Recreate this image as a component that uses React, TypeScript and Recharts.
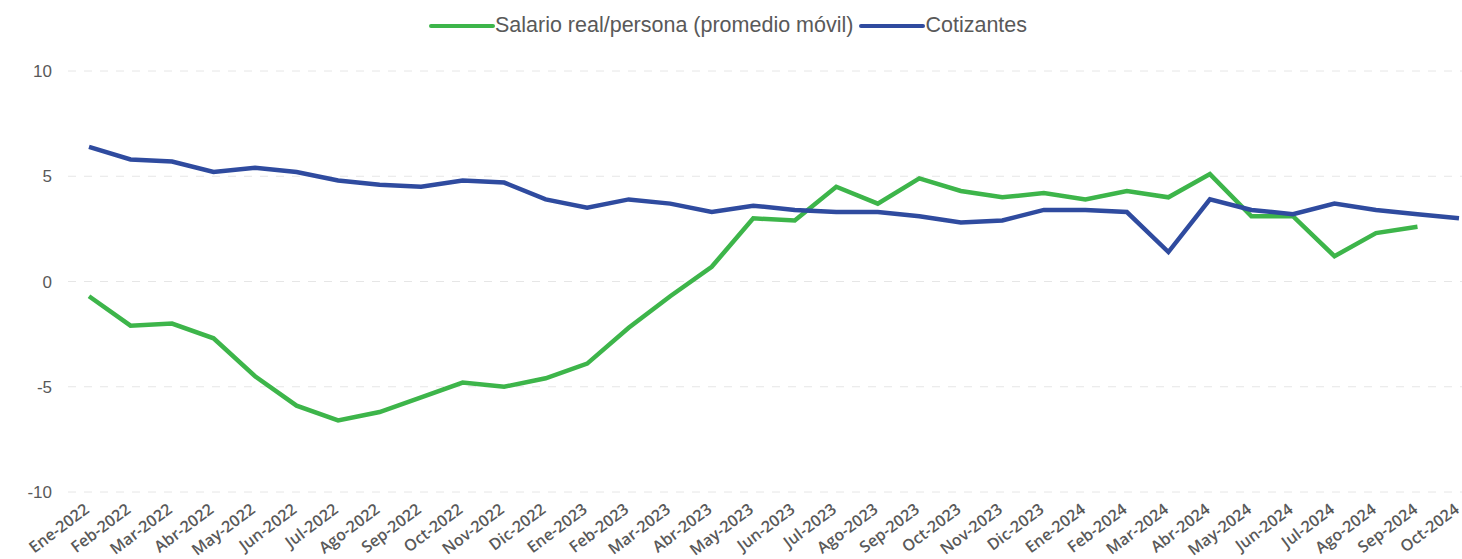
import React from 'react';
import { LineChart, Line, XAxis, YAxis, CartesianGrid, Legend } from 'recharts';

const months = [
  'Ene-2022', 'Feb-2022', 'Mar-2022', 'Abr-2022', 'May-2022', 'Jun-2022', 'Jul-2022', 'Ago-2022', 'Sep-2022', 'Oct-2022', 'Nov-2022', 'Dic-2022',
  'Ene-2023', 'Feb-2023', 'Mar-2023', 'Abr-2023', 'May-2023', 'Jun-2023', 'Jul-2023', 'Ago-2023', 'Sep-2023', 'Oct-2023', 'Nov-2023', 'Dic-2023',
  'Ene-2024', 'Feb-2024', 'Mar-2024', 'Abr-2024', 'May-2024', 'Jun-2024', 'Jul-2024', 'Ago-2024', 'Sep-2024', 'Oct-2024',
];

// salario real por persona, promedio móvil (%)
const salario: (number | null)[] = [
  -0.7, -2.1, -2.0, -2.7, -4.5, -5.9, -6.6, -6.2, -5.5, -4.8, -5.0, -4.6,
  -3.9, -2.2, -0.7, 0.7, 3.0, 2.9, 4.5, 3.7, 4.9, 4.3, 4.0, 4.2,
  3.9, 4.3, 4.0, 5.1, 3.1, 3.1, 1.2, 2.3, 2.6, null,
];

// cotizantes (%)
const cotizantes = [
  6.4, 5.8, 5.7, 5.2, 5.4, 5.2, 4.8, 4.6, 4.5, 4.8, 4.7, 3.9,
  3.5, 3.9, 3.7, 3.3, 3.6, 3.4, 3.3, 3.3, 3.1, 2.8, 2.9, 3.4,
  3.4, 3.3, 1.4, 3.9, 3.4, 3.2, 3.7, 3.4, 3.2, 3.0,
];

const yTicks = [-10, -5, 0, 5, 10];
const seriesNames = ['Salario real/persona (promedio móvil)', 'Cotizantes'];

const data = months.map((m, i) => ({ mes: m, salario: salario[i], cotizantes: cotizantes[i] }));

const textColor = '#595959';

const MonthTick = (props: any) => {
  const { x, y, payload } = props;
  return (
    <g transform={`translate(${x},${y})`}>
      <text
        x={-6}
        y={0}
        dy={10}
        textAnchor="end"
        transform="rotate(-37)"
        fill={textColor}
        fontSize={16}
        fontWeight={600}
        fontFamily="'Open Sans', sans-serif"
      >
        {payload.value}
      </text>
    </g>
  );
};

const LegendBox = (props: any) => {
  const items = [...(props.payload || [])].sort(
    (a: any, b: any) => seriesNames.indexOf(a.value) - seriesNames.indexOf(b.value)
  );
  return (
    <div style={{ display: 'flex', justifyContent: 'center', alignItems: 'center' }}>
      {items.map((p: any) => (
        <div key={p.value} style={{ display: 'flex', alignItems: 'center', marginRight: 6 }}>
          <svg width={66} height={10} style={{ marginRight: 0 }}>
            <line x1={2} y1={5} x2={64} y2={5} stroke={p.color} strokeWidth={4} strokeLinecap="round" />
          </svg>
          <span style={{ color: textColor, fontSize: 21.5, fontFamily: "'Liberation Sans', Arial, sans-serif" }}>
            {p.value}
          </span>
        </div>
      ))}
    </div>
  );
};

export default function App() {
  return (
    <div style={{ position: 'absolute', left: 0, top: 0, background: '#fff' }}>
      <LineChart width={1462} height={559} data={data} margin={{ top: 71, right: 0, bottom: 0, left: 0 }}>
        <CartesianGrid vertical={false} stroke="#e6e6e6" strokeDasharray="8 8" />
        <XAxis
          dataKey="mes"
          interval={0}
          axisLine={false}
          tickLine={false}
          height={67}
          padding={{ left: 21, right: 3 }}
          tick={<MonthTick />}
        />
        <YAxis
          domain={[-10, 10]}
          ticks={yTicks}
          width={68}
          axisLine={false}
          tickLine={false}
          tickMargin={10}
          tick={{ fill: textColor, fontSize: 17, fontFamily: "'Liberation Sans', Arial, sans-serif" }}
        />
        <Legend
          verticalAlign="middle"
          align="center"
          layout="horizontal"
          wrapperStyle={{ top: 13, left: 0, width: 1462 }}
          content={<LegendBox />}
        />
        <Line
          type="linear"
          dataKey="salario"
          name={seriesNames[0]}
          stroke="#3DB54A"
          strokeWidth={4.5}
          dot={false}
          isAnimationActive={false}
        />
        <Line
          type="linear"
          dataKey="cotizantes"
          name={seriesNames[1]}
          stroke="#2F4B9F"
          strokeWidth={4.5}
          dot={false}
          isAnimationActive={false}
        />
      </LineChart>
    </div>
  );
}
